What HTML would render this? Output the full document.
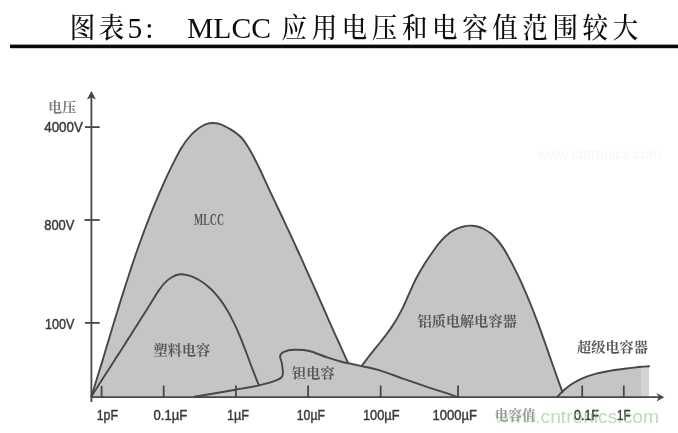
<!DOCTYPE html>
<html lang="zh-CN">
<head>
<meta charset="utf-8">
<title>图表5: MLCC 应用电压和电容值范围较大</title>
<style>
html,body{margin:0;padding:0;background:#fff;}
body{width:678px;height:433px;overflow:hidden;position:relative;font-family:"Liberation Sans","Noto Sans CJK SC",sans-serif;}
svg{position:absolute;left:0;top:0;display:block;}
.tl{font-family:"Liberation Serif","Noto Serif CJK SC",serif;font-size:29.5px;fill:#111;}
.tc{font-family:"Liberation Serif","Noto Serif CJK SC",serif;font-size:25.5px;fill:#111;font-weight:500;}
.song{font-family:"Liberation Serif","Noto Serif CJK SC",serif;fill:#595959;font-weight:700;}
.ax{font-family:"Liberation Sans","Noto Sans CJK SC",sans-serif;font-size:14.5px;fill:#3a3a3a;stroke:#3a3a3a;stroke-width:0.45px;}
.wm{font-family:"Liberation Sans",sans-serif;font-size:19.2px;fill:#7cc472;opacity:0.55;}
</style>
</head>
<body>
<svg width="678" height="433" viewBox="0 0 678 433">
<defs><filter id="b" x="-2%" y="-2%" width="104%" height="104%"><feGaussianBlur stdDeviation="0.65"/></filter>
<filter id="b2" x="-2%" y="-20%" width="104%" height="140%"><feGaussianBlur stdDeviation="0.35"/></filter></defs>
<rect x="0" y="0" width="678" height="433" fill="#fff"/>
<!-- title -->
<g filter="url(#b2)">
<g class="tc" transform="translate(0,38.2) scale(1,1.1)"><text x="82.5" y="0" text-anchor="middle">图</text><text x="111.6" y="0" text-anchor="middle">表</text><text x="294.3" y="0" text-anchor="middle">应</text><text x="324.4" y="0" text-anchor="middle">用</text><text x="354.5" y="0" text-anchor="middle">电</text><text x="384.6" y="0" text-anchor="middle">压</text><text x="414.7" y="0" text-anchor="middle">和</text><text x="444.8" y="0" text-anchor="middle">电</text><text x="474.9" y="0" text-anchor="middle">容</text><text x="505.0" y="0" text-anchor="middle">值</text><text x="535.1" y="0" text-anchor="middle">范</text><text x="565.2" y="0" text-anchor="middle">围</text><text x="595.3" y="0" text-anchor="middle">较</text><text x="625.4" y="0" text-anchor="middle">大</text></g>
<g class="tl">
<text x="127.5" y="37.7">5</text>
<text x="145.2" y="37.7">:</text>
<text x="187" y="37.7" textLength="84" lengthAdjust="spacingAndGlyphs">MLCC</text>
</g>
</g>
<rect x="10" y="44.6" width="668" height="3.6" fill="#0a0a0a"/>
<g filter="url(#b)">
<!-- fills -->
<g fill="#c5c5c5" stroke="none">
<path d="M91.4,396.5 C92.0,394.5 93.9,388.5 95.1,384.5 C96.4,380.6 97.6,376.6 98.8,372.6 C100.0,368.6 101.3,364.6 102.5,360.6 C103.7,356.6 104.9,352.6 106.1,348.6 C107.3,344.6 108.5,340.6 109.7,336.6 C110.9,332.6 112.1,328.6 113.3,324.6 C114.5,320.6 115.7,316.6 117.0,312.6 C118.2,308.6 119.4,304.6 120.7,300.6 C121.9,296.6 123.2,292.7 124.4,288.7 C125.7,284.7 127.0,280.7 128.3,276.8 C129.5,272.8 130.9,268.8 132.2,264.9 C133.5,260.9 134.9,257.0 136.2,253.0 C137.6,249.1 139.0,245.2 140.4,241.2 C141.8,237.3 143.3,233.4 144.7,229.5 C146.2,225.6 147.7,221.7 149.2,217.8 C150.7,213.9 152.3,210.0 153.9,206.2 C155.5,202.3 157.1,198.4 158.7,194.6 C160.4,190.8 162.1,186.9 163.8,183.1 C165.5,179.3 167.3,175.5 169.1,171.7 C170.9,167.9 172.7,164.1 174.7,160.4 C176.6,156.7 178.5,152.9 180.6,149.3 C182.8,145.8 185.0,142.2 187.6,139.0 C190.2,135.8 193.1,132.6 196.3,130.0 C199.5,127.5 203.3,124.8 207.0,123.8 C210.8,122.7 215.0,122.9 219.0,123.8 C222.9,124.8 227.1,127.2 230.7,129.4 C234.4,131.6 237.9,134.1 240.8,137.0 C243.7,139.9 245.9,143.4 248.1,146.9 C250.3,150.3 252.2,154.0 254.1,157.7 C256.0,161.4 257.8,165.2 259.7,169.0 C261.5,172.7 263.2,176.6 265.0,180.4 C266.8,184.2 268.5,188.0 270.3,191.8 C272.1,195.6 273.9,199.4 275.6,203.1 C277.4,206.9 279.2,210.7 281.0,214.5 C282.8,218.2 284.5,222.0 286.3,225.8 C288.1,229.6 289.8,233.3 291.6,237.1 C293.4,240.9 295.1,244.7 296.8,248.5 C298.6,252.3 300.3,256.1 302.0,259.9 C303.7,263.7 305.4,267.5 307.1,271.3 C308.8,275.1 310.5,278.9 312.2,282.7 C313.9,286.6 315.6,290.4 317.3,294.2 C319.0,298.0 320.7,301.8 322.4,305.7 C324.1,309.5 325.8,313.3 327.4,317.1 C329.1,320.9 330.8,324.8 332.5,328.6 C334.2,332.4 335.9,336.2 337.7,340.0 C339.4,343.8 341.1,347.6 342.8,351.4 C344.5,355.2 347.1,360.9 348.0,362.8 L348.0,397.2 L91.4,397.2 Z"/>
<path d="M194.3,396.8 C201.2,395.6 224.8,391.6 235.6,389.7 C246.4,387.8 252.2,386.9 259.0,385.3 C265.8,383.7 272.4,382.0 276.3,380.3 C280.2,378.6 281.7,378.0 282.6,375.2 C283.5,372.4 282.3,366.9 281.9,363.7 C281.5,360.5 279.8,358.1 280.1,356.1 C280.4,354.1 281.6,352.9 283.9,351.8 C286.2,350.8 289.9,349.9 294.1,349.8 C298.3,349.7 303.8,349.7 309.3,351.0 C314.8,352.3 321.6,355.6 327.1,357.4 C332.6,359.2 338.8,361.0 342.4,362.0 C346.0,363.0 345.5,362.5 348.7,363.2 C351.9,363.9 356.7,365.0 361.6,366.1 C366.5,367.2 371.1,367.8 378.1,369.9 C385.1,372.0 395.1,375.8 403.6,378.8 C412.1,381.8 421.4,385.1 429.0,387.7 C436.6,390.2 444.4,392.5 449.3,394.1 C454.2,395.7 456.7,396.6 458.2,397.1 L458.2,397.2 L194.3,397.2 Z"/>
<path d="M361.6,366.1 C362.6,364.8 365.4,360.8 367.4,358.3 C369.3,355.7 371.4,353.2 373.5,350.6 C375.5,348.1 377.6,345.6 379.6,343.0 C381.7,340.5 383.7,337.9 385.7,335.3 C387.6,332.7 389.6,330.1 391.4,327.4 C393.2,324.7 394.9,322.0 396.6,319.2 C398.2,316.4 399.8,313.5 401.3,310.6 C402.8,307.7 404.2,304.8 405.5,301.8 C406.9,298.9 408.1,295.8 409.5,292.8 C410.8,289.9 412.1,286.9 413.5,283.9 C414.9,281.0 416.3,278.2 417.9,275.3 C419.4,272.5 421.0,269.7 422.7,267.0 C424.3,264.2 426.1,261.5 427.9,258.8 C429.7,256.1 431.6,253.4 433.5,250.7 C435.4,248.0 437.4,245.2 439.6,242.7 C441.7,240.2 443.9,237.7 446.4,235.6 C448.8,233.4 451.5,231.4 454.3,229.9 C457.2,228.4 460.3,227.2 463.4,226.5 C466.5,225.7 469.8,225.4 472.9,225.7 C476.0,225.9 479.1,226.8 482.0,228.0 C484.9,229.3 487.7,231.1 490.3,233.1 C492.8,235.1 495.1,237.5 497.3,240.0 C499.4,242.4 501.3,245.1 503.2,247.9 C505.0,250.6 506.6,253.5 508.2,256.4 C509.9,259.3 511.4,262.2 512.9,265.1 C514.4,268.1 515.8,271.0 517.2,273.9 C518.7,276.8 520.0,279.8 521.4,282.7 C522.7,285.7 524.0,288.6 525.3,291.6 C526.6,294.5 527.8,297.5 529.1,300.5 C530.3,303.5 531.5,306.5 532.7,309.5 C533.9,312.5 535.0,315.5 536.2,318.6 C537.3,321.6 538.5,324.7 539.6,327.7 C540.7,330.8 541.8,333.9 542.9,336.9 C544.0,340.0 545.1,343.1 546.2,346.2 C547.3,349.3 548.4,352.3 549.4,355.4 C550.5,358.5 551.6,361.6 552.7,364.7 C553.8,367.8 554.8,370.8 555.9,373.9 C557.0,377.0 558.1,380.0 559.2,383.1 C560.3,386.1 561.9,390.7 562.5,392.2 L562.5,397.2 L361.6,397.2 Z"/>
<path d="M557.3,396.9 C558.2,396.0 560.8,393.0 562.7,391.3 C564.6,389.5 566.5,387.9 568.6,386.3 C570.6,384.8 572.7,383.4 574.9,382.2 C577.1,380.9 579.4,379.8 581.7,378.7 C584.0,377.7 586.3,376.8 588.7,375.9 C591.1,375.1 593.6,374.4 596.0,373.7 C598.5,373.1 601.0,372.5 603.5,372.0 C606.0,371.5 608.5,371.1 611.1,370.6 C613.6,370.2 616.2,369.9 618.7,369.5 C621.3,369.2 623.8,368.9 626.4,368.5 C628.9,368.2 631.4,367.9 634.0,367.6 C636.5,367.3 639.0,367.0 641.5,366.8 C644.1,366.6 647.8,366.3 649.1,366.2 L649.1,397.2 L557.3,397.2 Z"/>
<rect x="641" y="367" width="9" height="30" fill="#fff" opacity="0.25"/>
</g>
<!-- curves -->
<g fill="none" stroke="#474747" stroke-width="1.9" stroke-linejoin="round" stroke-linecap="round">
<path d="M91.4,396.5 C92.0,394.5 93.9,388.5 95.1,384.5 C96.4,380.6 97.6,376.6 98.8,372.6 C100.0,368.6 101.3,364.6 102.5,360.6 C103.7,356.6 104.9,352.6 106.1,348.6 C107.3,344.6 108.5,340.6 109.7,336.6 C110.9,332.6 112.1,328.6 113.3,324.6 C114.5,320.6 115.7,316.6 117.0,312.6 C118.2,308.6 119.4,304.6 120.7,300.6 C121.9,296.6 123.2,292.7 124.4,288.7 C125.7,284.7 127.0,280.7 128.3,276.8 C129.5,272.8 130.9,268.8 132.2,264.9 C133.5,260.9 134.9,257.0 136.2,253.0 C137.6,249.1 139.0,245.2 140.4,241.2 C141.8,237.3 143.3,233.4 144.7,229.5 C146.2,225.6 147.7,221.7 149.2,217.8 C150.7,213.9 152.3,210.0 153.9,206.2 C155.5,202.3 157.1,198.4 158.7,194.6 C160.4,190.8 162.1,186.9 163.8,183.1 C165.5,179.3 167.3,175.5 169.1,171.7 C170.9,167.9 172.7,164.1 174.7,160.4 C176.6,156.7 178.5,152.9 180.6,149.3 C182.8,145.8 185.0,142.2 187.6,139.0 C190.2,135.8 193.1,132.6 196.3,130.0 C199.5,127.5 203.3,124.8 207.0,123.8 C210.8,122.7 215.0,122.9 219.0,123.8 C222.9,124.8 227.1,127.2 230.7,129.4 C234.4,131.6 237.9,134.1 240.8,137.0 C243.7,139.9 245.9,143.4 248.1,146.9 C250.3,150.3 252.2,154.0 254.1,157.7 C256.0,161.4 257.8,165.2 259.7,169.0 C261.5,172.7 263.2,176.6 265.0,180.4 C266.8,184.2 268.5,188.0 270.3,191.8 C272.1,195.6 273.9,199.4 275.6,203.1 C277.4,206.9 279.2,210.7 281.0,214.5 C282.8,218.2 284.5,222.0 286.3,225.8 C288.1,229.6 289.8,233.3 291.6,237.1 C293.4,240.9 295.1,244.7 296.8,248.5 C298.6,252.3 300.3,256.1 302.0,259.9 C303.7,263.7 305.4,267.5 307.1,271.3 C308.8,275.1 310.5,278.9 312.2,282.7 C313.9,286.6 315.6,290.4 317.3,294.2 C319.0,298.0 320.7,301.8 322.4,305.7 C324.1,309.5 325.8,313.3 327.4,317.1 C329.1,320.9 330.8,324.8 332.5,328.6 C334.2,332.4 335.9,336.2 337.7,340.0 C339.4,343.8 341.1,347.6 342.8,351.4 C344.5,355.2 347.1,360.9 348.0,362.8"/>
<path d="M91.4,396.5 C92.3,395.0 95.1,390.6 97.0,387.7 C98.8,384.8 100.7,381.9 102.5,379.0 C104.4,376.1 106.2,373.2 108.0,370.4 C109.9,367.5 111.7,364.7 113.5,361.9 C115.3,359.0 117.1,356.2 119.0,353.4 C120.8,350.5 122.6,347.7 124.4,344.9 C126.2,342.0 128.0,339.2 129.9,336.4 C131.7,333.5 133.5,330.7 135.3,327.8 C137.1,324.9 139.0,322.0 140.8,319.1 C142.6,316.2 144.5,313.3 146.3,310.4 C148.1,307.4 150.0,304.4 151.8,301.5 C153.7,298.5 155.5,295.3 157.5,292.4 C159.4,289.6 161.4,286.6 163.6,284.1 C165.9,281.6 168.2,279.3 171.0,277.7 C173.7,276.0 176.9,274.6 180.1,274.3 C183.3,274.1 187.0,274.9 190.2,275.9 C193.4,276.9 196.6,278.6 199.5,280.3 C202.5,282.1 205.2,284.1 207.8,286.3 C210.4,288.4 212.8,290.9 215.1,293.4 C217.3,295.9 219.5,298.6 221.5,301.4 C223.5,304.2 225.3,307.1 227.1,310.1 C228.8,313.0 230.5,316.0 232.0,319.1 C233.6,322.1 235.1,325.2 236.5,328.3 C237.9,331.4 239.2,334.5 240.5,337.7 C241.8,340.8 243.0,344.0 244.2,347.1 C245.5,350.3 246.6,353.5 247.8,356.7 C249.0,359.9 250.2,363.1 251.4,366.3 C252.6,369.4 253.8,372.6 255.1,375.8 C256.3,379.0 258.3,383.7 259.0,385.3"/>
<path d="M194.3,396.8 C201.2,395.6 224.8,391.6 235.6,389.7 C246.4,387.8 252.2,386.9 259.0,385.3 C265.8,383.7 272.4,382.0 276.3,380.3 C280.2,378.6 281.7,378.0 282.6,375.2 C283.5,372.4 282.3,366.9 281.9,363.7 C281.5,360.5 279.8,358.1 280.1,356.1 C280.4,354.1 281.6,352.9 283.9,351.8 C286.2,350.8 289.9,349.9 294.1,349.8 C298.3,349.7 303.8,349.7 309.3,351.0 C314.8,352.3 321.6,355.6 327.1,357.4 C332.6,359.2 338.8,361.0 342.4,362.0 C346.0,363.0 345.5,362.5 348.7,363.2 C351.9,363.9 356.7,365.0 361.6,366.1 C366.5,367.2 371.1,367.8 378.1,369.9 C385.1,372.0 395.1,375.8 403.6,378.8 C412.1,381.8 421.4,385.1 429.0,387.7 C436.6,390.2 444.4,392.5 449.3,394.1 C454.2,395.7 456.7,396.6 458.2,397.1"/>
<path d="M361.6,366.1 C362.6,364.8 365.4,360.8 367.4,358.3 C369.3,355.7 371.4,353.2 373.5,350.6 C375.5,348.1 377.6,345.6 379.6,343.0 C381.7,340.5 383.7,337.9 385.7,335.3 C387.6,332.7 389.6,330.1 391.4,327.4 C393.2,324.7 394.9,322.0 396.6,319.2 C398.2,316.4 399.8,313.5 401.3,310.6 C402.8,307.7 404.2,304.8 405.5,301.8 C406.9,298.9 408.1,295.8 409.5,292.8 C410.8,289.9 412.1,286.9 413.5,283.9 C414.9,281.0 416.3,278.2 417.9,275.3 C419.4,272.5 421.0,269.7 422.7,267.0 C424.3,264.2 426.1,261.5 427.9,258.8 C429.7,256.1 431.6,253.4 433.5,250.7 C435.4,248.0 437.4,245.2 439.6,242.7 C441.7,240.2 443.9,237.7 446.4,235.6 C448.8,233.4 451.5,231.4 454.3,229.9 C457.2,228.4 460.3,227.2 463.4,226.5 C466.5,225.7 469.8,225.4 472.9,225.7 C476.0,225.9 479.1,226.8 482.0,228.0 C484.9,229.3 487.7,231.1 490.3,233.1 C492.8,235.1 495.1,237.5 497.3,240.0 C499.4,242.4 501.3,245.1 503.2,247.9 C505.0,250.6 506.6,253.5 508.2,256.4 C509.9,259.3 511.4,262.2 512.9,265.1 C514.4,268.1 515.8,271.0 517.2,273.9 C518.7,276.8 520.0,279.8 521.4,282.7 C522.7,285.7 524.0,288.6 525.3,291.6 C526.6,294.5 527.8,297.5 529.1,300.5 C530.3,303.5 531.5,306.5 532.7,309.5 C533.9,312.5 535.0,315.5 536.2,318.6 C537.3,321.6 538.5,324.7 539.6,327.7 C540.7,330.8 541.8,333.9 542.9,336.9 C544.0,340.0 545.1,343.1 546.2,346.2 C547.3,349.3 548.4,352.3 549.4,355.4 C550.5,358.5 551.6,361.6 552.7,364.7 C553.8,367.8 554.8,370.8 555.9,373.9 C557.0,377.0 558.1,380.0 559.2,383.1 C560.3,386.1 561.9,390.7 562.5,392.2"/>
<path d="M557.3,396.9 C558.2,396.0 560.8,393.0 562.7,391.3 C564.6,389.5 566.5,387.9 568.6,386.3 C570.6,384.8 572.7,383.4 574.9,382.2 C577.1,380.9 579.4,379.8 581.7,378.7 C584.0,377.7 586.3,376.8 588.7,375.9 C591.1,375.1 593.6,374.4 596.0,373.7 C598.5,373.1 601.0,372.5 603.5,372.0 C606.0,371.5 608.5,371.1 611.1,370.6 C613.6,370.2 616.2,369.9 618.7,369.5 C621.3,369.2 623.8,368.9 626.4,368.5 C628.9,368.2 631.4,367.9 634.0,367.6 C636.5,367.3 639.0,367.0 641.5,366.8 C644.1,366.6 647.8,366.3 649.1,366.2"/>
</g>
<!-- axes -->
<g stroke="#474747" stroke-width="1.8" fill="none">
<line x1="91.4" y1="96" x2="91.4" y2="402"/>
<line x1="91.4" y1="397.2" x2="661" y2="397.2"/>
<line x1="85" y1="127.1" x2="99.7" y2="127.1"/>
<line x1="84.5" y1="220" x2="99.7" y2="220"/>
<line x1="85" y1="322.9" x2="99.7" y2="322.9"/>
<line x1="101.6" y1="386" x2="101.6" y2="397.2"/>
<line x1="163.7" y1="385.5" x2="163.7" y2="397.2"/>
<line x1="235.9" y1="385.5" x2="235.9" y2="397.2"/>
<line x1="308.1" y1="385.5" x2="308.1" y2="397.2"/>
<line x1="380.7" y1="385.5" x2="380.7" y2="397.2"/>
<line x1="458" y1="385.5" x2="458" y2="397.2"/>
<line x1="582.2" y1="385.5" x2="582.2" y2="397.2"/>
<line x1="623.8" y1="385.5" x2="623.8" y2="397.2"/>
</g>
<path d="M91.4,91 L95.9,99.5 L91.4,97.5 L86.9,99.5 Z" fill="#474747"/>
<path d="M664.3,397.2 L656.5,393.0 L658.8,397.2 L656.5,401.4 Z" fill="#474747"/>
<!-- labels -->
<g class="ax">
<text x="44.2" y="132.2" textLength="38.8" lengthAdjust="spacingAndGlyphs">4000V</text>
<text x="44.2" y="230.2" textLength="30.2" lengthAdjust="spacingAndGlyphs">800V</text>
<text x="45" y="329.2" textLength="29.4" lengthAdjust="spacingAndGlyphs">100V</text>
<text x="96.7" y="420.3" textLength="21.3" lengthAdjust="spacingAndGlyphs">1pF</text>
<text x="153.6" y="420.3" textLength="33.7" lengthAdjust="spacingAndGlyphs">0.1µF</text>
<text x="227" y="420.3" textLength="22.0" lengthAdjust="spacingAndGlyphs">1µF</text>
<text x="296.8" y="420.3" textLength="28.2" lengthAdjust="spacingAndGlyphs">10µF</text>
<text x="363" y="420.3" textLength="36.5" lengthAdjust="spacingAndGlyphs">100µF</text>
<text x="432.6" y="420.3" textLength="44.4" lengthAdjust="spacingAndGlyphs">1000µF</text>
<text x="574" y="420.3" textLength="25.0" lengthAdjust="spacingAndGlyphs">0.1F</text>
<text x="617" y="420.3" textLength="13.4" lengthAdjust="spacingAndGlyphs">1F</text>
</g>
<g class="song">
<text x="48.3" y="111.8" font-size="14" fill="#7c7c7c" font-weight="700">电压</text>
<text x="194" y="224.8" font-size="16.5" textLength="30" lengthAdjust="spacingAndGlyphs">MLCC</text>
<text x="153.5" y="354.5" font-size="14.2">塑料电容</text>
<text x="292" y="377.5" font-size="14.2">钽电容</text>
<text x="417.5" y="326" font-size="14.2">铝质电解电容器</text>
<text x="577" y="351.5" font-size="14.2">超级电容器</text>
<text x="495" y="419.5" font-size="13.5" fill="#959595">电容值</text>
</g>
</g>
<text class="wm" x="494.7" y="423.3"><tspan fill-opacity="0.55">www</tspan>.cntronics.com</text>
<text class="wm" x="537" y="159" style="font-size:14.5px;fill:#7cc472;opacity:0.09">www.cntronics.com</text>
</svg>
</body>
</html>
